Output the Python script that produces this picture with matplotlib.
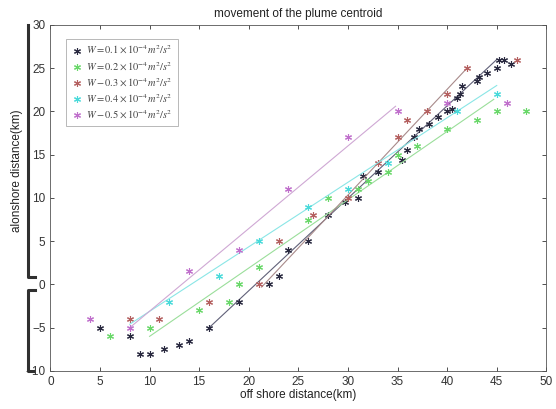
import matplotlib
matplotlib.use("Agg")
import matplotlib.pyplot as plt
from matplotlib.lines import Line2D
import numpy as np

plt.rcParams['font.family'] = ['Liberation Sans', 'DejaVu Sans']
plt.rcParams['mathtext.fontset'] = 'stix'

# centroid positions (off shore x, alongshore y), km
w1_x = [5, 8, 9, 10, 11.5, 13, 14, 16, 19, 22, 23, 24, 26, 28, 29.7, 31, 31.5, 33,
        35.5, 36, 36.7, 37.2, 38.2, 39.1, 40, 40.5, 41, 41.3, 41.5, 43, 43.2, 44, 45,
        45.2, 45.7, 46.4]
w1_y = [-5, -6, -8, -8, -7.5, -7, -6.5, -5, -2, 0, 1, 4, 5, 8, 9.5, 10, 12.5, 13,
        14.4, 15.5, 17, 18, 18.6, 19.4, 20, 20.3, 21.5, 22, 23, 23.5, 24, 24.5, 25,
        26, 26, 25.5]
w2_x = [6, 10, 15, 18, 19, 21, 26, 28, 31, 32, 34, 35, 37, 40, 43, 45, 48]
w2_y = [-6, -5, -3, -2, 0, 2, 7.5, 10, 11, 12, 13, 15, 16, 18, 19, 20, 20]
w3_x = [8, 11, 16, 21, 23, 26.5, 30, 33, 35, 36, 38, 40, 42, 47]
w3_y = [-4, -4, -2, 0, 5, 8, 10, 14, 17, 19, 20, 22, 25, 26]
w4_x = [12, 17, 21, 26, 30, 34, 41, 45]
w4_y = [-2, 1, 5, 9, 11, 14, 20, 22]
w5_x = [4, 8, 14, 19, 24, 30, 35, 40, 46]
w5_y = [-4, -5, 1.5, 4, 11, 17, 20, 21, 21]

# fitted trend lines (start, end)
fit1_x, fit1_y = [16, 45], [-5, 26]
fit2_x, fit2_y = [10, 44.7], [-6, 21.4]
fit3_x, fit3_y = [21.3, 42], [-0.3, 25]
fit4_x, fit4_y = [8, 45], [-4.6, 23]
fit5_x, fit5_y = [8, 34.8], [-5, 20.6]

labels = [r'$W=0.1\times10^{-4}m^2/s^2$', r'$W=0.2\times10^{-4}m^2/s^2$',
          r'$W-0.3\times10^{-4}m^2/s^2$', r'$W=0.4\times10^{-4}m^2/s^2$',
          r'$W-0.5\times10^{-4}m^2/s^2$']

series = [
    (w1_x, w1_y, fit1_x, fit1_y, '#2a2a40', '#606078'),
    (w2_x, w2_y, fit2_x, fit2_y, '#6ad86a', '#9ade9a'),
    (w3_x, w3_y, fit3_x, fit3_y, '#b46060', '#a88a8a'),
    (w4_x, w4_y, fit4_x, fit4_y, '#4adada', '#8ae6e6'),
    (w5_x, w5_y, fit5_x, fit5_y, '#c070cc', '#cfa8d4'),
]

fig = plt.figure(figsize=(5.56, 4.09), dpi=100)
ax = fig.add_axes([0.0906, 0.093, 0.892, 0.846])

star = (6, 2, 0)
for (x, y, fx, fy, c, lc), lab in zip(series, labels):
    ax.plot(fx, fy, color=lc, lw=0.8)
    ax.plot(x, y, linestyle='none', marker=star, ms=5, mew=0.8, color=c, label=lab)

ax.set_xlim(0, 50)
ax.set_ylim(-10, 30)
ax.set_xticks(np.arange(0, 51, 5))
ax.set_yticks(np.arange(-10, 31, 5))
ax.tick_params(direction='in', top=True, right=True, labelsize=8.5, length=3,
               width=0.6, colors='#333333')
for s in ax.spines.values():
    s.set_linewidth(0.6)
    s.set_color('#555555')

ax.set_title('movement of the plume centroid', fontsize=8.5, pad=6, color='#222222')
ax.set_xlabel('off shore distance(km)', fontsize=8.5, labelpad=1, color='#222222')
ax.set_ylabel('alonshore distance(km)', fontsize=8.5, color='#222222')
ax.yaxis.set_label_coords(-0.056, 0.58)

leg = ax.legend(loc='upper left', bbox_to_anchor=(0.02, 0.975), fontsize=7.5,
                frameon=True, fancybox=False, edgecolor='#999999',
                handletextpad=0.3, borderpad=0.5, labelspacing=0.35,
                handlelength=1.2)
leg.get_frame().set_linewidth(0.6)
for t in leg.get_texts():
    t.set_color('#444444')

# the bracket marks on the left margin (figure pixels)
W, H = 556, 409
def px_line(xs, ys):
    fig.add_artist(Line2D([v / W for v in xs], [1 - v / H for v in ys],
                          color='#303030', lw=2.2, transform=fig.transFigure))

px_line([28, 28, 35], [25, 277, 277])
px_line([35, 28, 28, 33], [290, 290, 371, 371])

fig.savefig('out.png', dpi=100)
